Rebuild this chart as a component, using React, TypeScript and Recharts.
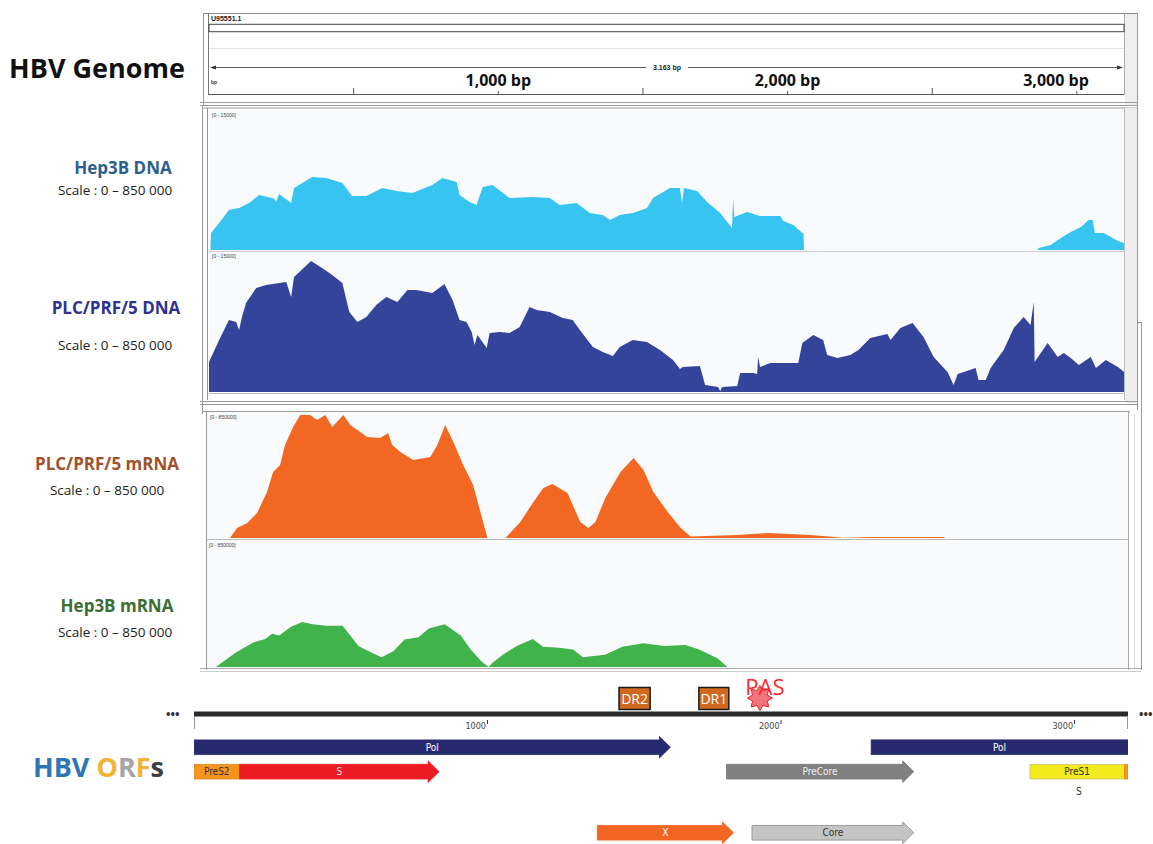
import React from 'react'
import {
  AreaChart,
  Area,
  XAxis,
  YAxis,
  ComposedChart,
  Line,
  ReferenceArea,
  ReferenceDot,
  ReferenceLine,
} from 'recharts'

// genome lengths
const GENOME_BP = 3163
const MAP_BP = 3182

// header ruler ticks (bp)
const headerTicks = [500, 1000, 1500, 2000, 2500, 3000]
const headerLabels = ['1,000 bp', '2,000 bp', '3,000 bp']

// coverage tracks: position (bp) and depth
const hep3bDnaPos = [5, 7, 35, 69, 104, 139, 173, 225, 232, 242, 284, 294, 357, 405, 461, 495, 544, 599, 648, 703, 772, 807, 856, 866, 901, 925, 946, 980, 1039, 1119, 1178, 1212, 1271, 1316, 1361, 1386, 1420, 1465, 1514, 1535, 1593, 1628, 1635, 1642, 1687, 1722, 1767, 1808, 1812, 1816, 1860, 1905, 1975, 1985, 2020, 2051, 2055, 2057, 2865, 2868, 2910, 2934, 2979, 3014, 3041, 3055, 3062, 3093, 3142, 3163]
const hep3bDnaCov = [0, 1850, 2930, 4350, 4570, 5110, 5980, 5600, 5220, 6090, 5110, 6740, 7940, 7830, 7280, 5870, 5870, 6740, 6410, 6200, 7070, 7830, 7390, 5980, 5220, 4890, 6850, 7070, 5650, 5760, 5650, 4890, 5110, 4020, 3800, 3260, 3800, 4020, 4570, 5650, 6740, 6740, 5110, 6740, 6410, 5220, 4020, 2390, 5650, 3590, 4130, 3700, 3700, 3150, 2720, 1850, 1850, 0, 0, 220, 540, 1090, 1960, 2500, 3260, 3260, 1850, 1850, 980, 760]

const plcDnaPos = [0, 35, 69, 94, 104, 114, 128, 163, 197, 267, 284, 294, 353, 391, 426, 461, 485, 513, 544, 578, 613, 651, 686, 717, 772, 814, 842, 866, 890, 908, 918, 928, 960, 970, 1005, 1039, 1074, 1108, 1133, 1178, 1223, 1257, 1282, 1327, 1361, 1396, 1420, 1465, 1514, 1559, 1604, 1628, 1638, 1697, 1715, 1760, 1767, 1774, 1826, 1836, 1881, 1895, 1898, 1905, 1940, 2037, 2051, 2089, 2123, 2137, 2172, 2217, 2245, 2286, 2345, 2356, 2390, 2432, 2470, 2505, 2553, 2574, 2588, 2650, 2660, 2685, 2702, 2747, 2782, 2816, 2840, 2851, 2854, 2899, 2934, 2955, 2979, 3007, 3048, 3066, 3100, 3142, 3163]
const plcDnaCov = [3240, 5610, 7770, 7550, 6690, 8090, 9600, 11220, 11550, 11870, 10250, 12410, 14130, 13380, 12620, 11760, 8630, 7550, 8090, 9390, 10250, 9710, 11010, 11010, 10680, 11650, 9930, 7770, 7550, 6470, 5070, 6150, 4750, 6370, 6470, 6370, 7010, 9170, 8850, 8630, 7980, 7770, 6690, 4860, 4320, 3880, 4860, 5610, 5400, 4530, 3450, 2480, 2700, 2810, 760, 540, 110, 540, 650, 2050, 2050, 1940, 3780, 2700, 3130, 3130, 5290, 6150, 5610, 3990, 3670, 3990, 4530, 5830, 6260, 5610, 6910, 7450, 5930, 3780, 2160, 760, 1940, 2590, 1290, 1290, 2590, 4530, 6910, 8090, 7230, 9710, 3240, 5290, 3780, 4210, 3670, 2910, 3780, 2590, 3450, 2700, 2160]

const plcRnaPos = [79, 103, 138, 172, 206, 227, 251, 268, 296, 320, 354, 378, 406, 430, 468, 492, 526, 550, 595, 622, 636, 664, 708, 767, 791, 818, 846, 880, 914, 939, 963, 1025, 1076, 1121, 1155, 1186, 1238, 1282, 1310, 1334, 1368, 1420, 1465, 1499, 1533, 1582, 1627, 1661, 1822, 1925, 2073, 2176, 2180, 2269, 2530, 2535]
const plcRnaCov = [0, 68000, 102000, 170000, 313000, 448000, 496000, 632000, 754000, 836000, 836000, 802000, 836000, 754000, 836000, 768000, 721000, 687000, 680000, 714000, 632000, 585000, 530000, 551000, 632000, 768000, 653000, 496000, 360000, 177000, 0, 0, 109000, 245000, 340000, 367000, 306000, 109000, 68000, 109000, 272000, 449000, 544000, 462000, 313000, 177000, 68000, 10000, 20000, 34000, 20000, 3000, 0, 6000, 6000, 0]

const hep3bRnaPos = [34, 100, 162, 203, 227, 251, 292, 330, 365, 413, 468, 485, 523, 571, 602, 643, 681, 729, 764, 819, 874, 908, 946, 970, 980, 1018, 1066, 1121, 1156, 1211, 1259, 1293, 1369, 1428, 1500, 1572, 1644, 1692, 1754, 1789]
const hep3bRnaCov = [0, 94000, 166000, 189000, 225000, 213000, 272000, 303000, 289000, 279000, 279000, 237000, 142000, 94000, 66000, 107000, 185000, 201000, 260000, 289000, 213000, 118000, 36000, 0, 24000, 83000, 142000, 189000, 137000, 130000, 118000, 66000, 83000, 137000, 161000, 142000, 149000, 118000, 59000, 0]

// ORF map (bp on a 3182 bp map), frame row
const orfLabel = ['Pol', 'Pol', 'PreS2', 'S', 'PreCore', 'PreS1', '', 'X', 'Core']
const orfKind = ['pol', 'pol', 'preS2', 's', 'preCore', 'preS1', 'preS2', 'x', 'core']
const orfStart = [0, 2307, 0, 155, 1814, 2848, 3170, 1374, 1901]
const orfEnd = [1623, 3182, 155, 835, 2452, 3170, 3182, 1838, 2452]
const orfFrame = [1, 1, 2, 2, 2, 2, 2, 4.5, 4.5]
const orfArrow = [true, false, false, true, true, false, false, true, true]

const mapTicks = [0, 1000, 2000, 3000, 3182]
const drNames = ['DR2', 'DR1']
const drStart = [1448, 1720]
const drEnd = [1554, 1822]
const pasPos = 1928

const ORF_STYLE: Record<string, { fill: string; stroke: string; text: string }> = {
  pol: { fill: '#282a70', stroke: '#282a70', text: '#ffffff' },
  preS2: { fill: '#f7941d', stroke: '#e08a20', text: '#333333' },
  s: { fill: '#ed1c24', stroke: '#ed1c24', text: '#ffe0e0' },
  preCore: { fill: '#808080', stroke: '#777777', text: '#f2f2f2' },
  preS1: { fill: '#f2ea1a', stroke: '#c9c27a', text: '#333333' },
  x: { fill: '#f26522', stroke: '#f26522', text: '#ffffff' },
  core: { fill: '#c4c4c4', stroke: '#8a8a8a', text: '#333333' },
}

const SANS = '"Open Sans", "Noto Sans", sans-serif'
const NARROW = '"Liberation Sans Narrow", "DejaVu Sans Condensed", sans-serif'
const PANEL_BG = '#f9fafb'

const zero = { top: 0, right: 0, bottom: 0, left: 0 }

function CoverageTrack({ left, top, width, height, pos, cov, max, color }: any) {
  const data = pos.map((p: number, i: number) => ({ bp: p, cov: cov[i] }))
  return (
    <div style={{ position: 'absolute', left, top }}>
      <AreaChart width={width} height={height} data={data} margin={zero}>
        <XAxis dataKey="bp" type="number" domain={[0, GENOME_BP]} hide allowDataOverflow />
        <YAxis type="number" domain={[0, max]} hide allowDataOverflow />
        <Area
          dataKey="cov"
          type="linear"
          stroke="none"
          fill={color}
          fillOpacity={1}
          baseValue={0}
          dot={false}
          activeDot={false}
          isAnimationActive={false}
        />
      </AreaChart>
    </div>
  )
}

const HeaderTick = (props: any) => {
  const { x, y, payload } = props
  const idx = [1000, 2000, 3000].indexOf(payload.value)
  if (idx < 0) return <g />
  const cx = Math.min(x, 915 - 68)
  return (
    <g>
      <rect x={cx - 54} y={y - 18} width={108} height={23} fill="#fff" />
      <text x={cx} y={y} textAnchor="middle" fontFamily={SANS} fontWeight={700} fontSize={16} fill="#111">
        {headerLabels[idx]}
      </text>
    </g>
  )
}

const MapTick = (props: any) => {
  const { x, y, payload } = props
  const v = payload.value
  const isEnd = v === 0 || v === MAP_BP
  return (
    <g>
      <line x1={x} x2={x} y1={y + (isEnd ? 3 : 6)} y2={y + (isEnd ? 15 : 10)} stroke="#333" strokeWidth={1} />
      {!isEnd && (
        <text x={x - 1.5} y={y + 15} textAnchor="end" fontFamily={NARROW} fontSize={9} fill="#444">
          {v}
        </text>
      )}
    </g>
  )
}

const starShape = (props: any) => {
  const { cx, cy } = props
  const pts: string[] = []
  for (let i = 0; i < 16; i++) {
    const r = i % 2 === 0 ? 12.5 : 8
    const a = (Math.PI / 8) * i - Math.PI / 2
    pts.push(`${cx + r * Math.cos(a)},${cy + r * Math.sin(a)}`)
  }
  return (
    <g>
      <polygon points={pts.join(' ')} fill="#f2737c" stroke="#e8202a" strokeWidth={1} />
      <text x={cx + 5} y={cy - 3} textAnchor="middle" fontFamily={SANS} fontSize={22} fill="#ff2a2a">
        PAS
      </text>
    </g>
  )
}

const orfShape = (arrow: boolean, fill: string, stroke: string) => (p: any) => {
  const { x, y, width, height } = p
  if (!arrow) return <rect x={x} y={y} width={width} height={height} fill={fill} stroke={stroke} strokeWidth={0.8} />
  const head = Math.min(11, width)
  const bx = x + width - head
  const d = `M${x},${y} H${bx} V${y - 3.5} L${x + width},${y + height / 2} L${bx},${y + height + 3.5} V${y + height} H${x} Z`
  return <path d={d} fill={fill} stroke={stroke} strokeWidth={0.8} />
}

function Background() {
  const g = '#9a9a9a'
  return (
    <svg width={1153} height={844} style={{ position: 'absolute', left: 0, top: 0 }}>
      <rect width={1153} height={844} fill="#fff" />
      {/* header panel */}
      <line x1={203} x2={1138} y1={13.5} y2={13.5} stroke="#888" />
      <line x1={203.5} x2={203.5} y1={13} y2={106} stroke={g} />
      <line x1={208.5} x2={208.5} y1={13} y2={95} stroke="#777" />
      <rect x={1125} y={14} width={12} height={92} fill="#efefef" />
      <line x1={1124.5} x2={1124.5} y1={13} y2={95} stroke="#aaa" />
      <line x1={1137.5} x2={1137.5} y1={13} y2={106} stroke={g} />
      <rect x={209} y={24.3} width={915} height={7.4} fill="#fff" stroke="#444" strokeWidth={1} />
      <line x1={209} x2={1124} y1={48.5} y2={48.5} stroke="#e4e4e4" />
      <line x1={209} x2={1124} y1={94.5} y2={94.5} stroke="#555" />
      <line x1={200} x2={1138} y1={102.5} y2={102.5} stroke={g} />
      <line x1={200} x2={1138} y1={105.5} y2={105.5} stroke={g} />
      <text x={211} y={21} fontFamily="Arial, sans-serif" fontWeight={700} fontSize={7} fill="#222">U95551.1</text>
      <text x={211} y={84} fontFamily="Arial, sans-serif" fontWeight={700} fontSize={5} fill="#333">bp</text>
      {/* span arrow */}
      <line x1={212} x2={1121} y1={67.5} y2={67.5} stroke="#333" strokeWidth={0.8} />
      <polygon points="210,67.5 216,65.5 216,69.5" fill="#333" />
      <polygon points="1123,67.5 1117,65.5 1117,69.5" fill="#333" />
      <rect x={646} y={63} width={42} height={9} fill="#fff" />
      <text x={667} y={70} textAnchor="middle" fontFamily="Arial, sans-serif" fontWeight={700} fontSize={7} fill="#222">3.163 bp</text>

      {/* DNA panel */}
      <line x1={202.5} x2={202.5} y1={106} y2={410} stroke={g} />
      <line x1={207.5} x2={207.5} y1={108} y2={400} stroke={g} />
      <line x1={203} x2={1138} y1={108} y2={108} stroke={g} />
      <rect x={209} y={110} width={915} height={283} fill={PANEL_BG} />
      <line x1={209} x2={1124} y1={251.5} y2={251.5} stroke="#c9cdd2" />
      <line x1={209} x2={1124} y1={393.5} y2={393.5} stroke="#bbb" />
      <rect x={1125} y={108} width={12} height={295} fill="#eeeeee" />
      <line x1={1124.5} x2={1124.5} y1={108} y2={400} stroke="#bbb" />
      <line x1={1137.5} x2={1137.5} y1={106} y2={410} stroke={g} />
      <line x1={200} x2={1138} y1={401.5} y2={401.5} stroke={g} />
      <line x1={200} x2={1138} y1={404.5} y2={404.5} stroke={g} />
      <line x1={1137} x2={1141} y1={322.5} y2={322.5} stroke="#888" />
      <line x1={1141.5} x2={1141.5} y1={322} y2={670} stroke="#999" />
      <text x={212} y={117} fontFamily="Arial, sans-serif" fontSize={5} fill="#444">[0 - 15000]</text>
      <text x={212} y={258} fontFamily="Arial, sans-serif" fontSize={5} fill="#444">[0 - 15000]</text>

      {/* mRNA panel */}
      <line x1={203} x2={1130} y1={411.5} y2={411.5} stroke={g} />
      <line x1={202.5} x2={202.5} y1={404} y2={414} stroke={g} />
      <line x1={206.5} x2={206.5} y1={411} y2={670} stroke={g} />
      <rect x={207} y={412} width={921} height={256} fill={PANEL_BG} />
      <line x1={207} x2={1128} y1={539.5} y2={539.5} stroke="#bbb" />
      <line x1={1128.5} x2={1128.5} y1={411} y2={670} stroke="#aaa" />
      <line x1={1134.5} x2={1134.5} y1={414} y2={668} stroke="#dcdcdc" />
      <line x1={200} x2={1141} y1={668.5} y2={668.5} stroke="#aaa" />
      <line x1={200} x2={1141} y1={671.5} y2={671.5} stroke="#ccc" />
      <text x={210} y={419} fontFamily="Arial, sans-serif" fontSize={5} fill="#444">[0 - 850000]</text>
      <text x={209} y={547} fontFamily="Arial, sans-serif" fontSize={5} fill="#444">[0 - 850000]</text>

      {/* left labels */}
      <text x={97} y={78} textAnchor="middle" fontFamily={SANS} fontWeight={700} fontSize={27} fill="#111">HBV Genome</text>
      <text x={123} y={174} textAnchor="middle" fontFamily={SANS} fontWeight={700} fontSize={17} fill="#2c5f8e">Hep3B DNA</text>
      <text x={115} y={195} textAnchor="middle" fontFamily={SANS} fontSize={13.5} fill="#222">Scale : 0 – 850 000</text>
      <text x={116} y={314} textAnchor="middle" fontFamily={SANS} fontWeight={700} fontSize={17} fill="#2e3192">PLC/PRF/5 DNA</text>
      <text x={115} y={350} textAnchor="middle" fontFamily={SANS} fontSize={13.5} fill="#222">Scale : 0 – 850 000</text>
      <text x={107} y={470} textAnchor="middle" fontFamily={SANS} fontWeight={700} fontSize={17} fill="#a0522d">PLC/PRF/5 mRNA</text>
      <text x={107} y={495} textAnchor="middle" fontFamily={SANS} fontSize={13.5} fill="#222">Scale : 0 – 850 000</text>
      <text x={117} y={612} textAnchor="middle" fontFamily={SANS} fontWeight={700} fontSize={17} fill="#3c6e35">Hep3B mRNA</text>
      <text x={115} y={637} textAnchor="middle" fontFamily={SANS} fontSize={13.5} fill="#222">Scale : 0 – 850 000</text>

      {/* ORF title */}
      <text x={33} y={777} fontFamily={SANS} fontWeight={700} fontSize={27}>
        <tspan fill="#2e75b6">HBV </tspan>
        <tspan fill="#f5b335">O</tspan>
        <tspan fill="#a5a5a5">R</tspan>
        <tspan fill="#f5b335">F</tspan>
        <tspan fill="#404040">s</tspan>
      </text>
      <text x={166} y={719} fontFamily={SANS} fontWeight={700} fontSize={12} fill="#333">•••</text>
      <text x={1139} y={719} fontFamily={SANS} fontWeight={700} fontSize={12} fill="#333">•••</text>
    </svg>
  )
}

export default function App() {
  const headerData = [{ bp: 0, v: 0 }, { bp: GENOME_BP, v: 0 }]
  const mapData = [{ bp: 0, v: 0 }, { bp: MAP_BP, v: 0 }]
  return (
    <div style={{ position: 'absolute', left: 0, top: 0, width: 1153, height: 844, overflow: 'hidden', background: '#fff' }}>
      <Background />

      {/* header ruler */}
      <div style={{ position: 'absolute', left: 209, top: 55 }}>
        <ComposedChart width={915} height={45} data={headerData} margin={zero}>
          <XAxis
            dataKey="bp"
            type="number"
            orientation="top"
            domain={[0, GENOME_BP]}
            allowDataOverflow
            ticks={headerTicks}
            interval={0}
            height={40}
            axisLine={false}
            tickSize={7}
            tickMargin={2}
            tickLine={{ stroke: '#555' }}
            tick={(p: any) => <HeaderTick {...p} />}
          />
          <YAxis hide domain={[0, 1]} allowDataOverflow />
          <Line dataKey="v" stroke="none" dot={false} isAnimationActive={false} />
        </ComposedChart>
      </div>

      <CoverageTrack left={209} top={112} width={915} height={138} pos={hep3bDnaPos} cov={hep3bDnaCov} max={15000} color="#37c4f0" />
      <CoverageTrack left={209} top={253} width={915} height={139} pos={plcDnaPos} cov={plcDnaCov} max={15000} color="#35449b" />
      <CoverageTrack left={207} top={413} width={921} height={125} pos={plcRnaPos} cov={plcRnaCov} max={850000} color="#f26722" />
      <CoverageTrack left={206} top={541} width={922} height={126} pos={hep3bRnaPos} cov={hep3bRnaCov} max={850000} color="#41b34b" />

      {/* genome map ruler with DR1/DR2/PAS */}
      <div style={{ position: 'absolute', left: 194, top: 670 }}>
        <ComposedChart width={934} height={70} data={mapData} margin={zero} style={{ overflow: 'visible' }}>
          <XAxis
            dataKey="bp"
            type="number"
            domain={[0, MAP_BP]}
            allowDataOverflow
            ticks={mapTicks}
            interval={0}
            height={26}
            tickSize={0}
            tickMargin={0}
            tickLine={false}
            axisLine={{ stroke: '#2a2a2a', strokeWidth: 5 }}
            tick={(p: any) => <MapTick {...p} />}
          />
          <YAxis hide domain={[0, 4]} allowDataOverflow />
          <Line dataKey="v" stroke="none" dot={false} isAnimationActive={false} />
          <ReferenceLine y={0} stroke="#a8a8a8" strokeWidth={1.2} ifOverflow="visible" />
          {drNames.map((n, i) => (
            <ReferenceArea
              key={n}
              x1={drStart[i]}
              x2={drEnd[i]}
              y1={0.4}
              y2={2.4}
              fill="#d0691f"
              fillOpacity={1}
              stroke="#1a1a1a"
              strokeWidth={1.5}
              label={{ value: n, position: 'center', fill: '#fff', fontSize: 14, fontFamily: SANS }}
            />
          ))}
          <ReferenceDot x={pasPos} y={1.45} r={12} shape={starShape} />
        </ComposedChart>
      </div>

      {/* ORF rows */}
      <div style={{ position: 'absolute', left: 194, top: 735 }}>
        <ComposedChart width={934} height={110} data={mapData} margin={zero}>
          <XAxis dataKey="bp" type="number" domain={[0, MAP_BP]} allowDataOverflow hide />
          <YAxis hide type="number" domain={[0.5, 5]} reversed allowDataOverflow />
          <Line dataKey="v" stroke="none" dot={false} isAnimationActive={false} />
          {orfLabel.map((lab, i) => {
            const st = ORF_STYLE[orfKind[i]]
            return (
              <ReferenceArea
                key={i}
                x1={orfStart[i]}
                x2={orfEnd[i]}
                y1={orfFrame[i] - 0.3}
                y2={orfFrame[i] + 0.3}
                ifOverflow="visible"
                shape={orfShape(orfArrow[i], st.fill, st.stroke)}
                label={lab ? { value: lab, position: 'center', fill: st.text, fontSize: 10, fontFamily: NARROW } : undefined}
              />
            )
          })}
          <ReferenceDot
            x={(orfStart[5] + orfEnd[6]) / 2}
            y={2.8}
            r={0}
            fill="none"
            stroke="none"
            label={{ value: 'S', position: 'center', fill: '#333', fontSize: 10, fontFamily: NARROW }}
          />
        </ComposedChart>
      </div>
    </div>
  )
}
